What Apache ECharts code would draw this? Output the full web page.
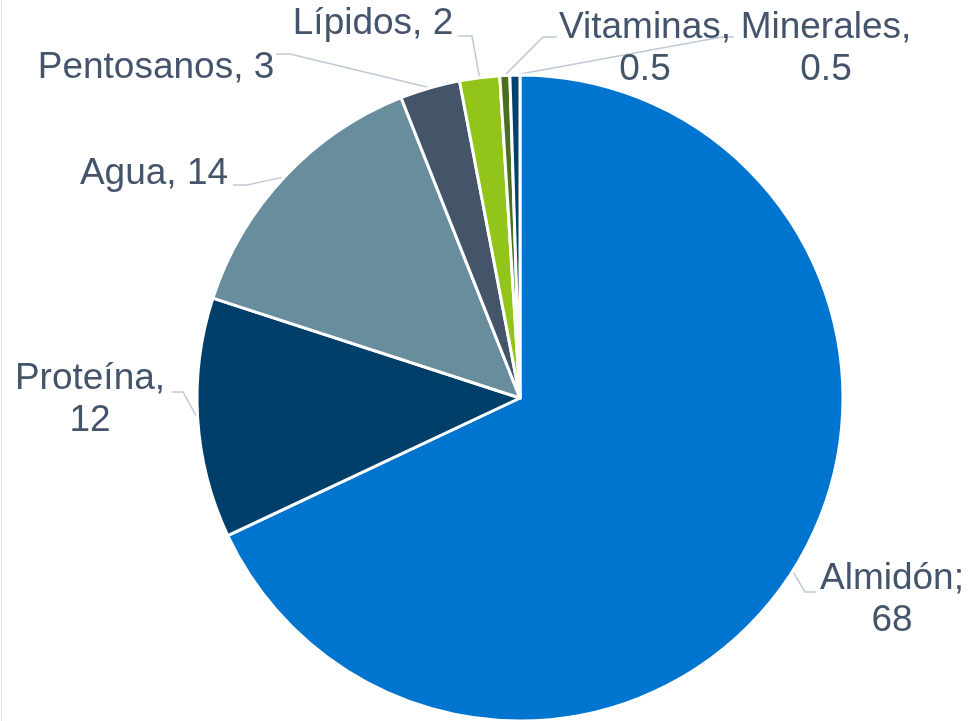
<!DOCTYPE html>
<html>
<head>
<meta charset="utf-8">
<script src="https://cdn.jsdelivr.net/npm/echarts@6/dist/echarts.min.js"></script>
<style>
  html, body {margin: 0; padding: 0; background: #fff;}
  #chart {width: 971px; height: 721px;}
</style>
</head>
<body>
<div id="chart"></div>
<script>
// composición del grano
const names = ['Almidón', 'Proteína', 'Agua', 'Pentosanos', 'Lípidos', 'Vitaminas', 'Minerales'];
const values = [68, 12, 14, 3, 2, 0.5, 0.5];
const colors = ['#0075cf', '#003f6a', '#688d9c', '#445469', '#93c41a', '#4a6f22', '#00416e'];

// label boxes (center x, center y) and the elbow of each leader line
const labelPos = [
  [892, 600], [90, 400], [154, 174], [156, 68], [373, 24], [645, 49], [826, 49]
];
const elbows = [
  [[805, 592], [816, 592]],
  [[183, 392], [172, 392]],
  [[247, 185], [233, 185]],
  [[290, 54], [276, 54]],
  [[472, 36], [458, 36]],
  [[543, 37], [557, 37]],
  [[722, 37], [734, 37]]
];
const multiLine = {'Almidón': ';', 'Proteína': ',', 'Vitaminas': ',', 'Minerales': ','};

const chart = echarts.init(document.getElementById('chart'));
chart.setOption({
  animation: false,
  graphic: [{
    type: 'line',
    shape: {x1: 1.5, y1: 0, x2: 1.5, y2: 721},
    style: {stroke: '#dde4ea', lineWidth: 1}
  }],
  series: [{
    type: 'pie',
    center: [520, 398],
    radius: [0, 323],
    startAngle: 90,
    clockwise: true,
    data: names.map((n, i) => ({name: n, value: values[i], itemStyle: {color: colors[i]}})),
    itemStyle: {borderColor: '#fff', borderWidth: 3},
    label: {
      show: true,
      position: 'outside',
      overflow: 'none',
      fontFamily: 'Liberation Sans, Arial, sans-serif',
      fontSize: 37,
      lineHeight: 42,
      color: '#44546a',
      align: 'center',
      formatter: p => multiLine[p.name]
        ? p.name + multiLine[p.name] + '\n' + p.value
        : p.name + ', ' + p.value
    },
    labelLine: {
      show: true,
      length: 10,
      length2: 10,
      lineStyle: {color: '#bfc9d4', width: 1.5}
    },
    labelLayout: params => {
      const i = params.dataIndex;
      const r = params.labelRect;
      const pts = params.labelLinePoints;
      return {
        x: labelPos[i][0],
        y: labelPos[i][1] - r.height / 2,
        align: 'center',
        verticalAlign: 'top',
        labelLinePoints: [pts[0], elbows[i][0], elbows[i][1]]
      };
    }
  }]
});
</script>
</body>
</html>
